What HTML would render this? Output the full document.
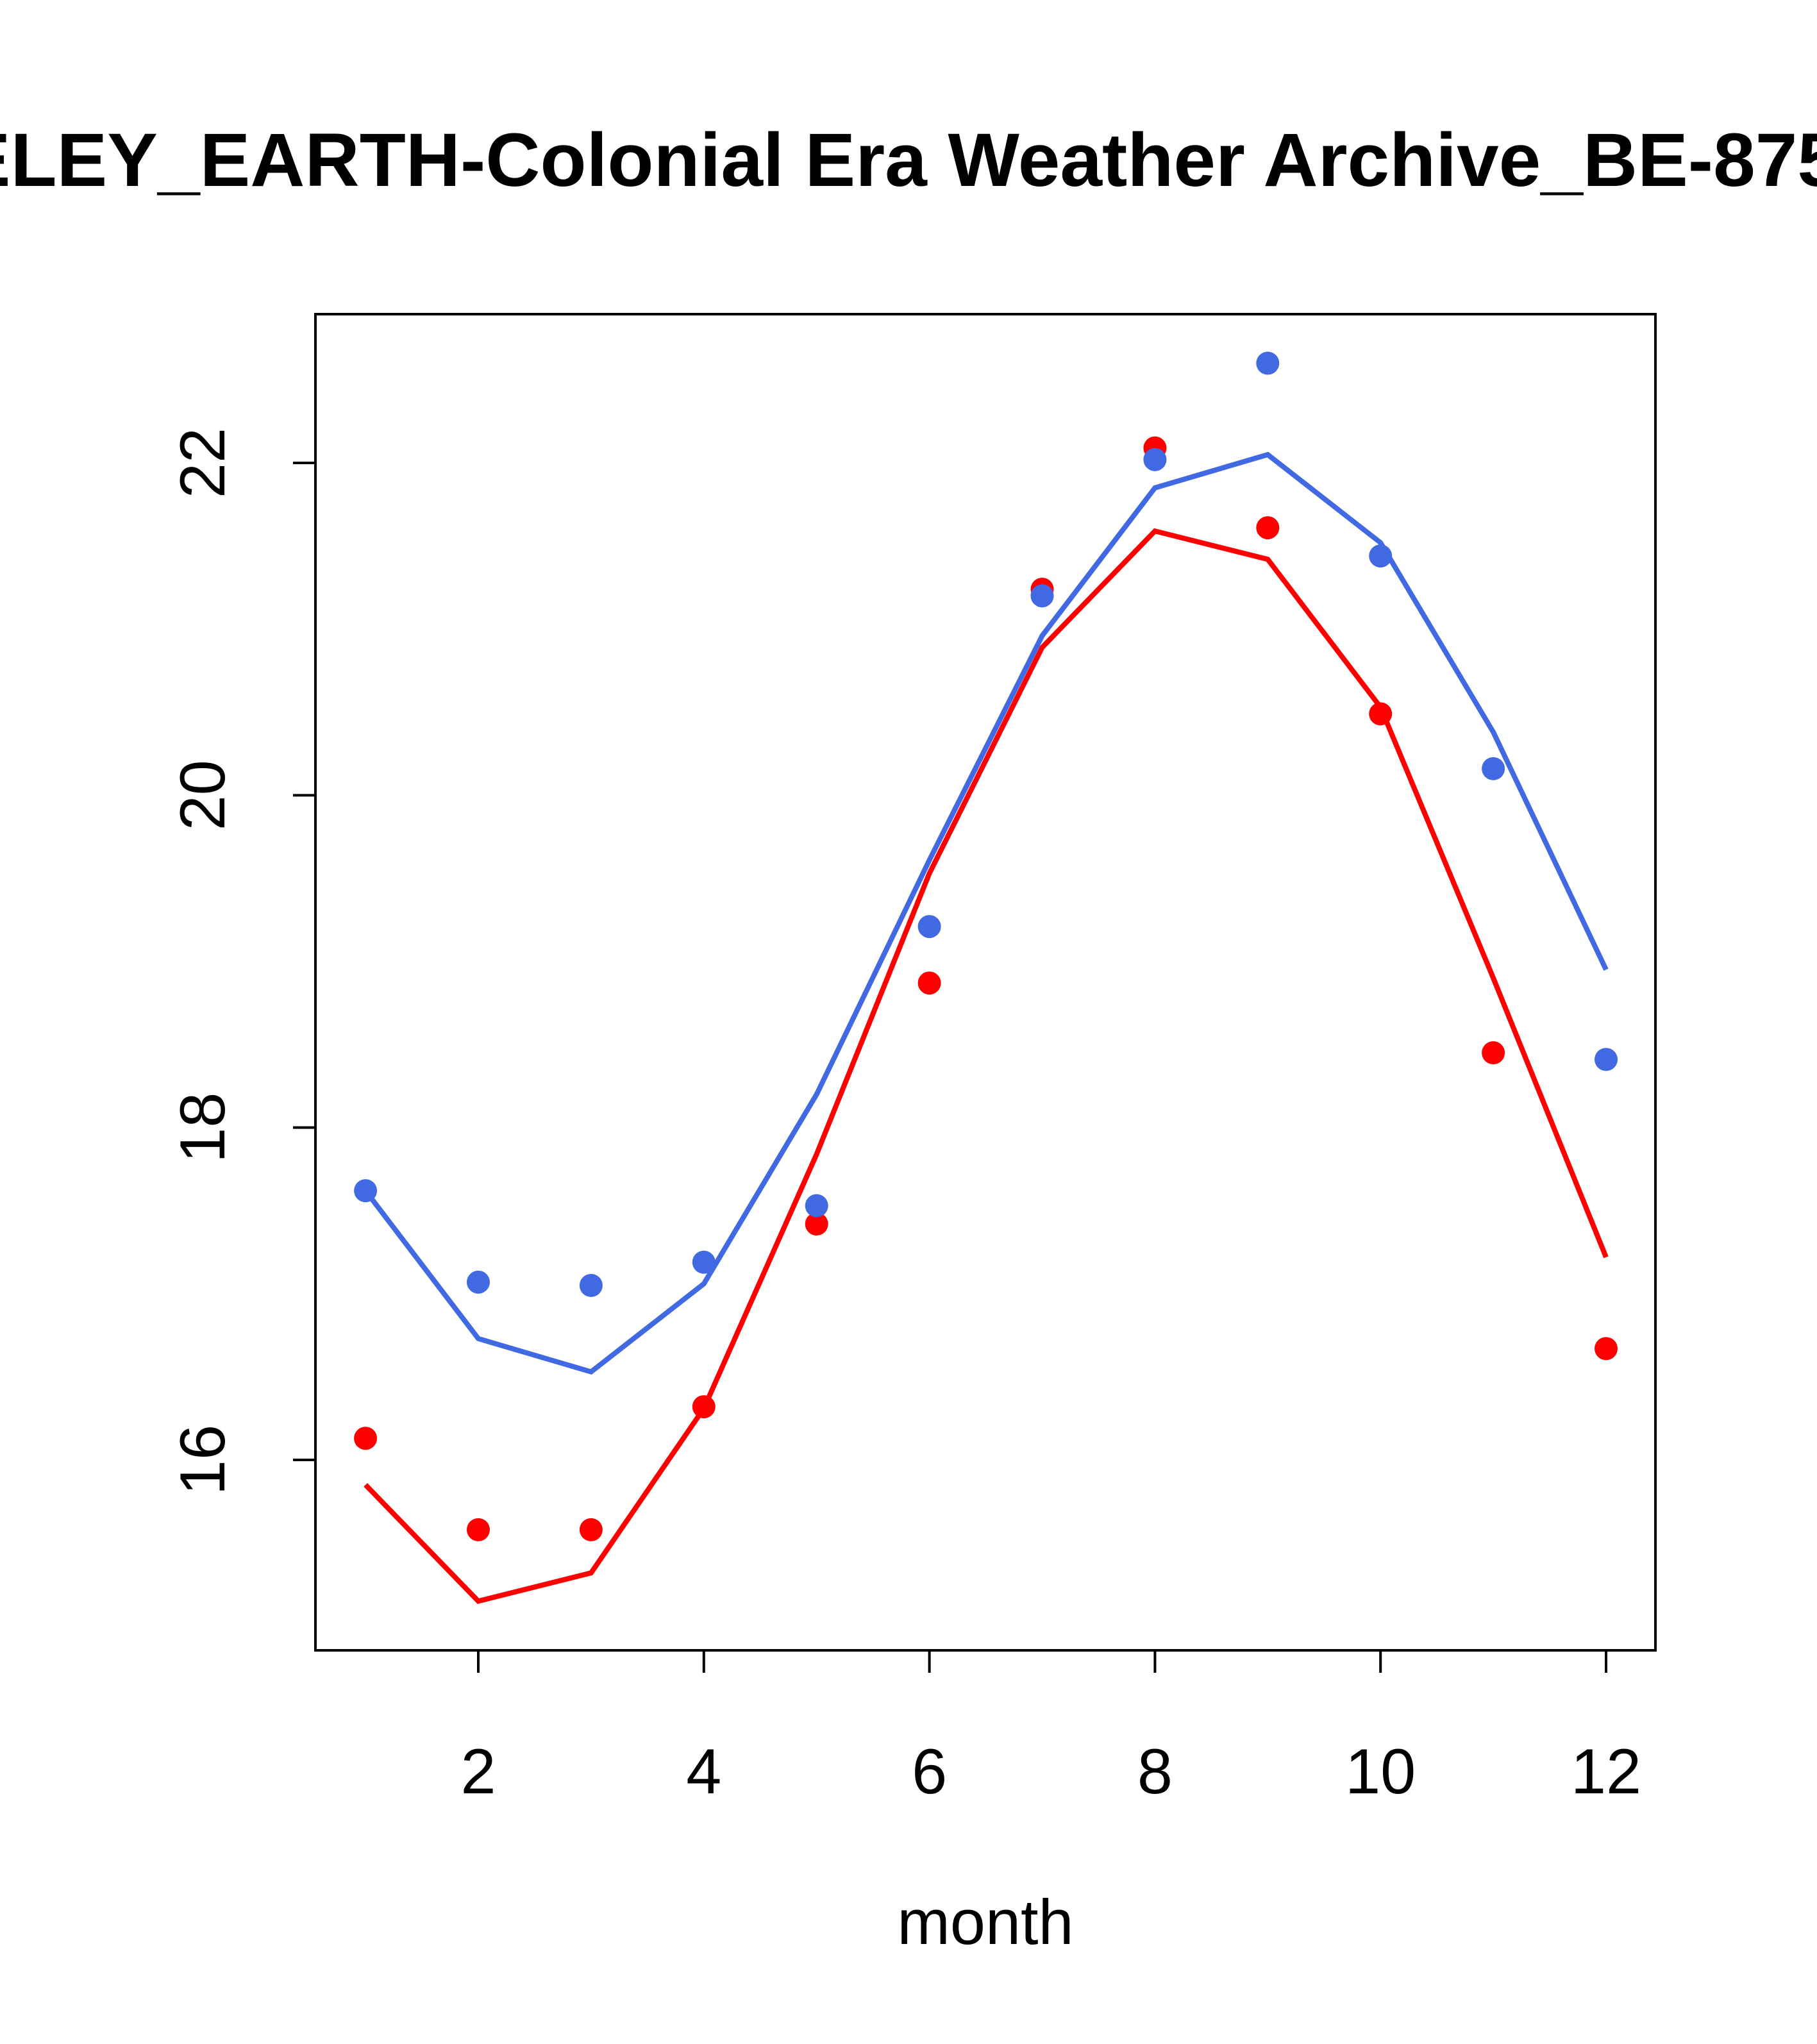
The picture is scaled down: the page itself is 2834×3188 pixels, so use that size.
<!DOCTYPE html>
<html><head><meta charset="utf-8"><style>
html,body{margin:0;padding:0;background:#fff;}
svg{display:block;font-family:"Liberation Sans",Arial,sans-serif;}
</style></head><body>
<svg id="chart" width="2834" height="3188" viewBox="0 0 2834 3188" xmlns="http://www.w3.org/2000/svg">
<text x="1269" y="290" text-anchor="middle" font-size="118" font-weight="bold">BERKELEY_EARTH-Colonial Era Weather Archive_BE-8755</text>
<rect x="492" y="490" width="2090" height="2084" fill="none" stroke="#000" stroke-width="4"/>
<g id="xaxis"></g>
<g id="yaxis"></g>
<text x="1537" y="3032" text-anchor="middle" font-size="99">month</text>
<g id="series"></g>
</svg>
<script>
const months = [1,2,3,4,5,6,7,8,9,10,11,12];
const bluePoints = [17.62,17.07,17.05,17.19,17.53,19.21,21.20,22.02,22.60,21.44,20.16,18.41];
const redPoints = [16.13,15.58,15.58,16.32,17.42,18.87,21.24,22.09,21.61,20.49,18.45,16.67];
const blueLine = [17.62,16.73,16.53,17.06,18.20,19.61,20.96,21.85,22.05,21.52,20.38,18.95];
const redLine = [15.85,15.15,15.32,16.31,17.84,19.53,20.89,21.59,21.42,20.53,18.90,17.22];
const xTicks = [2,4,6,8,10,12];
const yTicks = [16,18,20,22];

const NS = "http://www.w3.org/2000/svg";
function xs(m){ return 746 + (m-2)*(2505-746)/10; }
function ys(v){ return 722 + (22-v)*(2277-722)/6; }
function mk(tag, attrs, parent){
  const e = document.createElementNS(NS, tag);
  for (const k in attrs) e.setAttribute(k, attrs[k]);
  parent.appendChild(e);
  return e;
}
const xa = document.getElementById('xaxis');
xTicks.forEach(t=>{
  const l = mk('line',{x1:xs(t),x2:xs(t),y1:2574,y2:2609,stroke:'#000','stroke-width':4},xa);
  
  
  const tx = mk('text',{x:xs(t),y:2797,'text-anchor':'middle','font-size':99},xa);
  tx.textContent = t;
  
  
});
const ya = document.getElementById('yaxis');
yTicks.forEach(t=>{
  const l = mk('line',{x1:457,x2:492,y1:ys(t),y2:ys(t),stroke:'#000','stroke-width':4},ya);
  
  
  const tx = mk('text',{x:0,y:0,'text-anchor':'middle','font-size':99,transform:`translate(350,${ys(t)}) rotate(-90)`},ya);
  tx.textContent = t;
  
  
});
const sg = document.getElementById('series');
function line(vals,color,name){
  const p = mk('polyline',{points:vals.map((v,i)=>xs(months[i])+','+ys(v)).join(' '),fill:'none',stroke:color,'stroke-width':8},sg);
  
  
}
function pts(vals,color,name){
  vals.forEach((v,i)=>{
    const c = mk('circle',{cx:xs(months[i]),cy:ys(v),r:18,fill:color},sg);
    
    
  });
}
line(redLine,'#FF0000','red-line');
line(blueLine,'#4169E1','blue-line');
pts(redPoints,'#FF0000','red-point');
pts(bluePoints,'#4169E1','blue-point');
</script>
</body></html>
